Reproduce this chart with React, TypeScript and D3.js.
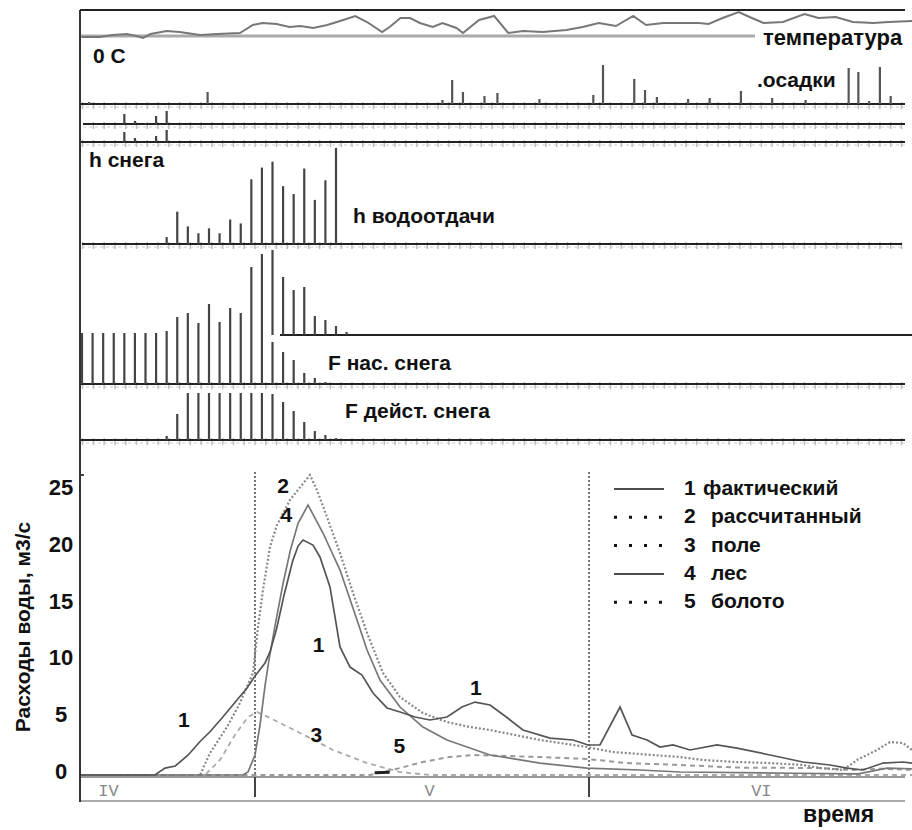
import { useEffect, useRef } from "react";
import * as d3 from "d3";

// x in days counted from 1 May (day 0); 1 June = day 31
const monthStarts = [0, 31];
const monthLabels: [string, number][] = [
  ["IV", -13.6],
  ["V", 16.2],
  ["VI", 47.0],
];

// air temperature, [day, °C]
const temperature: [number, number][] = [
  [-16.1, -0.5], [-14.4, -0.5], [-13.2, 0.5], [-11.9, 1], [-11.0, 0], [-10.4, -1],
  [-9.7, 1], [-8.2, 2.5], [-7.0, 2], [-5.1, 0.5], [-3.5, 1], [-1.4, 1.5], [-0.2, 5.5],
  [0.7, 6.5], [2.0, 6], [3.2, 4.5], [4.2, 5], [5.4, 4], [6.7, 5.5], [7.9, 7.5],
  [9.3, 10], [10.4, 7], [11.8, 2], [12.5, 4.5], [13.5, 9], [14.4, 9], [15.3, 6.5],
  [16.5, 4.5], [17.4, 6.5], [18.7, 4], [19.3, 1.5], [20.8, 8], [22.2, 10], [23.5, 1.5],
  [24.9, 2.5], [26.7, 2], [28.9, 3], [30.4, 4.5], [31.9, 6.5], [33.5, 5], [35.1, 10],
  [36.3, 5.5], [37.9, 6.5], [39.7, 6.5], [41.2, 6.5], [42.1, 6], [43.4, 9], [44.9, 12],
  [45.9, 9.5], [47.2, 6.5], [49.0, 7], [51.0, 11], [52.3, 9], [53.9, 9.5], [55.5, 7],
  [57.4, 6.5], [58.8, 7], [61.0, 7.5],
];

// precipitation, [day, mm]
const precipitation: [number, number][] = [
  [-15.4, 1], [-4.4, 6], [17.4, 2], [18.3, 12], [19.3, 6], [21.3, 4], [22.5, 5.5],
  [26.4, 2.5], [31.4, 4.5], [32.3, 19.5], [35.2, 12.5], [36.2, 7], [37.3, 3.5],
  [40.2, 2.5], [42.2, 3], [45.1, 6.5], [48.0, 3], [51.1, 2], [55.1, 18], [56.0, 16],
  [57.0, 1.5], [58.0, 18.5], [59.0, 4],
];

// snow model steps (index 0 = 14 April)
const rowA: [number, number][] = [[4, 10], [5, 3], [6, 1], [7, 8], [8, 13]];
const rowB: [number, number][] = [[4, 10], [5, 4], [7, 6], [8, 12]];
const hSnowMelt: [number, number][] = [
  [8, 7], [9, 33], [10, 18], [11, 11], [12, 16], [13, 11], [14, 25], [15, 21], [16, 66],
  [17, 78], [18, 84], [19, 59], [20, 51], [21, 77], [22, 45], [23, 65], [24, 98],
];
const fSnowStore: [number, number][] = [
  [0, 51], [1, 51], [2, 51], [3, 51], [4, 51], [5, 51], [6, 51], [7, 51], [8, 53],
  [9, 67], [10, 71], [11, 61], [12, 80], [13, 62], [14, 76], [15, 71], [16, 117],
  [17, 130], [18, 42], [19, 32], [20, 24], [21, 11], [22, 6], [23, 2],
];
const fSnowUpper: [number, number][] = [
  [18, 85], [19, 58], [20, 45], [21, 48], [22, 19], [23, 15], [24, 9], [25, 3],
];
const fSnowActive: [number, number][] = [
  [8, 4], [9, 26], [10, 47], [11, 47], [12, 47], [13, 47], [14, 47], [15, 47], [16, 47],
  [17, 47], [18, 46], [19, 38], [20, 29], [21, 18], [22, 9], [23, 5], [24, 2],
];

// discharge, m3/s, [day, Q]
const qFact: [number, number][] = [
  [-16.2, -0.35], [-9.3, -0.35], [-8.35, 0.26], [-7.4, 0.44], [-6.2, 1.41], [-5.1, 2.6],
  [-4.2, 3.43], [-3.06, 4.67], [-1.67, 6.25], [-0.74, 7.31], [0, 8.36], [0.93, 9.51],
  [1.4, 10.5], [2.0, 12.5], [2.7, 15.5], [3.5, 18.5], [4.0, 19.8], [4.46, 20.33],
  [5.38, 19.89], [6.03, 18.84], [6.96, 16.2], [7.89, 10.92], [8.82, 9.15], [9.93, 8.45],
  [10.95, 6.87], [12.25, 5.55], [13.46, 5.19], [14.85, 4.75], [16.24, 4.49], [17.82, 4.75],
  [19.21, 5.63], [20.42, 6.07], [21.81, 5.81], [23.2, 4.84], [24.87, 3.61], [27.38, 2.9],
  [29.52, 2.73], [30.91, 2.29], [32.02, 2.29], [33.88, 5.63], [35.0, 3.17], [36.38, 2.73],
  [37.59, 2.11], [38.8, 2.29], [40.37, 1.85], [42.88, 2.29], [44.74, 2.02], [47.8, 1.41],
  [50.86, 0.79], [53.37, 0.53], [54.95, 0.26], [56.43, 0.09], [58.29, 0.7], [60.14, 0.79],
  [60.98, 0.7],
];
const qCalc: [number, number][] = [
  [-16.2, -0.35], [-5.1, -0.35], [-4.18, 1.58], [-2.6, 3.87], [-1.39, 5.99], [-0.19, 8.63],
  [0.28, 12.68], [0.74, 15.93], [1.39, 19.72], [2.04, 21.65], [3.25, 23.86], [5.1, 26.06],
  [5.75, 24.74], [6.68, 22.36], [7.89, 19.19], [9.1, 15.67], [10.4, 12.15], [11.88, 8.63],
  [13.46, 6.51], [15.59, 5.1], [17.82, 4.31], [19.96, 3.87], [21.81, 3.61], [26.45, 2.73],
  [30.81, 2.11], [33.23, 1.67], [39.45, 1.23], [41.58, 0.97], [44.74, 0.79], [47.8, 0.7],
  [50.86, 0.53], [52.44, 0.26], [54.58, 0.09], [55.87, 0.97], [57.73, 1.85], [58.94, 2.55],
  [60.14, 2.46], [60.98, 1.85],
];
const qField: [number, number][] = [
  [-16.2, -0.35], [-4.64, -0.35], [-3.25, 0.97], [-1.86, 3.17], [-0.65, 4.75], [0.19, 5.19],
  [1.39, 4.67], [4.18, 3.35], [7.24, 1.85], [10.4, 0.7], [13.46, -0.09], [16.24, -0.35],
  [60.98, -0.35],
];
const qForest: [number, number][] = [
  [-16.2, -0.35], [-1.11, -0.35], [-0.65, -0.09], [0, 1.41], [0.46, 4], [0.93, 7.5],
  [1.3, 9.8], [1.9, 13], [2.6, 16.5], [3.3, 19.5], [4.0, 21.8], [4.92, 23.42], [6.31, 20.95],
  [7.89, 17.69], [9.47, 13.29], [10.4, 10.65], [11.6, 8.01], [13.46, 5.63], [15.59, 3.87],
  [17.82, 2.73], [21.81, 1.41], [26.45, 0.7], [30.81, 0.26], [35.73, 0.09], [39.45, -0.09],
  [50, -0.2], [56, -0.25], [58.66, 0.26], [60.98, 0.2],
];
const qBog: [number, number][] = [
  [-16.2, -0.35], [10.67, -0.35], [13.46, 0.26], [15.59, 0.79], [17.82, 1.2], [20.23, 1.41],
  [26.45, 1.23], [30.81, 1.06], [34.53, 0.7], [39.45, 0.53], [44.74, 0.3], [52.44, 0.26],
  [55.22, 0.09], [58, 0.2], [60.98, 0.1],
];
const qTicks = [0, 5, 10, 15, 20, 25];

const legendItems = [
  { num: "1", name: "фактический", dash: null, nameDx: 19 },
  { num: "2", name: "рассчитанный", dash: "3,12", nameDx: 27 },
  { num: "3", name: "поле", dash: "3,12", nameDx: 27 },
  { num: "4", name: "лес", dash: null, nameDx: 27 },
  { num: "5", name: "болото", dash: "3,12", nameDx: 27 },
];

// curve number labels, [text, day, Q]
const curveLabels: [string, number, number][] = [
  ["2", 2.6, 24.5],
  ["4", 2.9, 21.9],
  ["1", 5.9, 10.5],
  ["1", -6.6, 3.9],
  ["3", 5.7, 2.55],
  ["5", 13.4, 1.6],
  ["1", 20.5, 6.7],
];

const FONT = "'Liberation Sans', Arial, sans-serif";

export default function App() {
  const svgRef = useRef<SVGSVGElement>(null);

  useEffect(() => {
    const svg = d3.select(svgRef.current);
    svg.selectAll("*").remove();

    const left = 80;
    const right = 905;
    const x = d3.scaleLinear().domain([0, 31]).range([255, 589]);
    const xSnow = d3.scaleLinear().domain([0, 24]).range([82, 336]);
    const days = d3.range(-16, 61);

    const g = svg.append("g").attr("font-family", FONT).attr("font-weight", "bold");

    // gray day ticks under a baseline, then the black line itself
    const baseline = (y: number, x0 = left, x1 = right) => {
      g.append("g")
        .selectAll("line")
        .data(days.filter((d) => x(d) >= x0 && x(d) <= x1))
        .enter()
        .append("line")
        .attr("x1", (d) => x(d))
        .attr("x2", (d) => x(d))
        .attr("y1", y - 2)
        .attr("y2", y + 5)
        .attr("stroke", "#bbb")
        .attr("stroke-width", 1.5);
      g.append("line")
        .attr("x1", x0)
        .attr("x2", x1)
        .attr("y1", y + 3)
        .attr("y2", y + 3)
        .attr("stroke", "#ccc")
        .attr("stroke-dasharray", "3,3");
      g.append("line")
        .attr("x1", x0)
        .attr("x2", x1)
        .attr("y1", y)
        .attr("y2", y)
        .attr("stroke", "#222")
        .attr("stroke-width", 2);
    };

    const bars = (
      data: [number, number][],
      xs: d3.ScaleLinear<number, number>,
      ys: d3.ScaleLinear<number, number>,
      color = "#444"
    ) => {
      g.append("g")
        .selectAll("line")
        .data(data)
        .enter()
        .append("line")
        .attr("x1", (d) => xs(d[0]))
        .attr("x2", (d) => xs(d[0]))
        .attr("y1", ys(0))
        .attr("y2", (d) => ys(d[1]))
        .attr("stroke", color)
        .attr("stroke-width", 2.2);
    };

    const label = (t: string, px: number, py: number, size = 21) =>
      g.append("text").attr("x", px).attr("y", py).attr("font-size", size).attr("fill", "#111").text(t);

    // ---- temperature
    const yTemp = d3.scaleLinear().domain([0, 12]).range([36, 12]);
    g.append("line")
      .attr("x1", left)
      .attr("x2", 755)
      .attr("y1", yTemp(0))
      .attr("y2", yTemp(0))
      .attr("stroke", "#aaa")
      .attr("stroke-width", 3);
    g.append("path")
      .attr(
        "d",
        d3
          .line<[number, number]>()
          .x((d) => x(d[0]))
          .y((d) => yTemp(d[1]))(temperature)
      )
      .attr("fill", "none")
      .attr("stroke", "#777")
      .attr("stroke-width", 2);
    label("температура", 763, 45, 22);
    label("0 C", 93, 63, 21);

    // ---- precipitation
    const yPrec = d3.scaleLinear().domain([0, 20]).range([104, 64]);
    baseline(104);
    bars(precipitation, x, yPrec, "#555");
    label(".осадки", 757, 87, 21);

    // ---- two narrow rows
    baseline(124, 83);
    baseline(142);
    bars(rowA, xSnow, d3.scaleLinear().domain([0, 15]).range([124, 109]));
    bars(rowB, xSnow, d3.scaleLinear().domain([0, 15]).range([142, 127]));

    // ---- snow melt
    baseline(244, 82, 902);
    bars(hSnowMelt, xSnow, d3.scaleLinear().domain([0, 100]).range([244, 146]));
    label("h снега", 89, 167);
    label("h  водоотдачи", 353, 223);

    // ---- snow storage
    baseline(384);
    bars(fSnowStore, xSnow, d3.scaleLinear().domain([0, 130]).range([384, 254]));
    g.append("line")
      .attr("x1", 280)
      .attr("x2", 912)
      .attr("y1", 335)
      .attr("y2", 335)
      .attr("stroke", "#222")
      .attr("stroke-width", 2);
    bars(fSnowUpper, xSnow, d3.scaleLinear().domain([0, 90]).range([335, 245]));
    label("F нас. снега", 328, 370);

    // ---- active snow area
    baseline(440);
    bars(fSnowActive, xSnow, d3.scaleLinear().domain([0, 50]).range([440, 390]));
    label("F дейст. снега", 345, 418);

    // ---- discharge chart
    const yQ = d3.scaleLinear().domain([0, 25]).range([771, 487]);
    const axisY = 777;

    // month boundaries
    g.append("g")
      .selectAll("line")
      .data(monthStarts)
      .enter()
      .append("line")
      .attr("x1", (d) => x(d))
      .attr("x2", (d) => x(d))
      .attr("y1", 472)
      .attr("y2", axisY)
      .attr("stroke", "#777")
      .attr("stroke-width", 2)
      .attr("stroke-dasharray", "2,2");

    svg
      .append("clipPath")
      .attr("id", "plot")
      .append("rect")
      .attr("x", left)
      .attr("y", 442)
      .attr("width", 912 - left)
      .attr("height", axisY - 442);

    const line = d3
      .line<[number, number]>()
      .x((d) => x(d[0]))
      .y((d) => yQ(d[1]));

    const series: { data: [number, number][]; color: string; width: number; dash: string | null }[] = [
      { data: qField, color: "#aaa", width: 1.8, dash: "5,4" },
      { data: qBog, color: "#999", width: 2, dash: "5,4" },
      { data: qCalc, color: "#888", width: 2.2, dash: "2,2" },
      { data: qForest, color: "#777", width: 1.7, dash: null },
      { data: qFact, color: "#555", width: 1.7, dash: null },
    ];
    const curves = g.append("g").attr("clip-path", "url(#plot)");
    series.forEach((s) => {
      curves
        .append("path")
        .attr("d", line(s.data))
        .attr("fill", "none")
        .attr("stroke", s.color)
        .attr("stroke-width", s.width)
        .attr("stroke-dasharray", s.dash);
    });
    // short dark mark on the bog curve start
    curves
      .append("path")
      .attr("d", line([[11.1, -0.15], [12.5, -0.1]]))
      .attr("stroke", "#222")
      .attr("stroke-width", 3);

    // x axis and frame
    g.append("line")
      .attr("x1", left)
      .attr("x2", right)
      .attr("y1", axisY)
      .attr("y2", axisY)
      .attr("stroke", "#999")
      .attr("stroke-width", 2);
    g.append("line")
      .attr("x1", left)
      .attr("x2", right)
      .attr("y1", 801)
      .attr("y2", 801)
      .attr("stroke", "#aaa")
      .attr("stroke-width", 2);
    g.append("g")
      .selectAll("line")
      .data(monthStarts)
      .enter()
      .append("line")
      .attr("x1", (d) => x(d))
      .attr("x2", (d) => x(d))
      .attr("y1", axisY)
      .attr("y2", 797)
      .attr("stroke", "#444")
      .attr("stroke-width", 2);
    g.append("g")
      .selectAll("text")
      .data(monthLabels)
      .enter()
      .append("text")
      .attr("x", (d) => x(d[1]))
      .attr("y", 796)
      .attr("text-anchor", "middle")
      .attr("font-family", "'Liberation Mono', 'DejaVu Sans Mono', monospace")
      .attr("font-weight", "normal")
      .attr("font-size", 17)
      .attr("fill", "#888")
      .text((d) => d[0]);

    // y ticks
    g.append("g")
      .selectAll("text")
      .data(qTicks)
      .enter()
      .append("text")
      .attr("x", 61)
      .attr("y", (d) => yQ(d) + 8)
      .attr("text-anchor", "middle")
      .attr("font-size", 22)
      .attr("fill", "#111")
      .text((d) => d);
    g.append("line")
      .attr("x1", left)
      .attr("x2", left + 4)
      .attr("y1", 475)
      .attr("y2", 475)
      .attr("stroke", "#444")
      .attr("stroke-width", 2);

    g.append("text")
      .attr("transform", "translate(30,627) rotate(-90)")
      .attr("text-anchor", "middle")
      .attr("font-size", 21)
      .attr("fill", "#111")
      .text("Расходы воды, м3/с");

    // curve numbers
    g.append("g")
      .selectAll("text")
      .data(curveLabels)
      .enter()
      .append("text")
      .attr("x", (d) => x(d[1]))
      .attr("y", (d) => yQ(d[2]))
      .attr("text-anchor", "middle")
      .attr("font-size", 21)
      .attr("fill", "#111")
      .text((d) => d[0]);

    // legend
    const leg = g
      .append("g")
      .selectAll("g")
      .data(legendItems)
      .enter()
      .append("g")
      .attr("transform", (d, i) => `translate(0,${495 + i * 28.3})`);
    leg
      .append("line")
      .attr("x1", 614)
      .attr("x2", 664)
      .attr("y1", -6)
      .attr("y2", -6)
      .attr("stroke", "#111")
      .attr("stroke-width", (d) => (d.dash ? 3 : 1.5))
      .attr("stroke-dasharray", (d) => d.dash);
    leg
      .append("text")
      .attr("x", 684)
      .attr("font-size", 21)
      .attr("fill", "#111")
      .text((d) => d.num);
    leg
      .append("text")
      .attr("x", (d) => 684 + d.nameDx)
      .attr("font-size", 21)
      .attr("fill", "#111")
      .text((d) => d.name);

    label("время", 803, 822, 23);

    // outer frame: left and top edges
    g.append("line")
      .attr("x1", left)
      .attr("x2", left)
      .attr("y1", 10)
      .attr("y2", 802)
      .attr("stroke", "#333")
      .attr("stroke-width", 2);
    g.append("line")
      .attr("x1", left)
      .attr("x2", right)
      .attr("y1", 10)
      .attr("y2", 10)
      .attr("stroke", "#222")
      .attr("stroke-width", 2);
  }, []);

  return (
    <div style={{ position: "absolute", left: 0, top: 0 }}>
      <svg ref={svgRef} width={912} height={830} style={{ display: "block", background: "#fff" }} />
    </div>
  );
}
